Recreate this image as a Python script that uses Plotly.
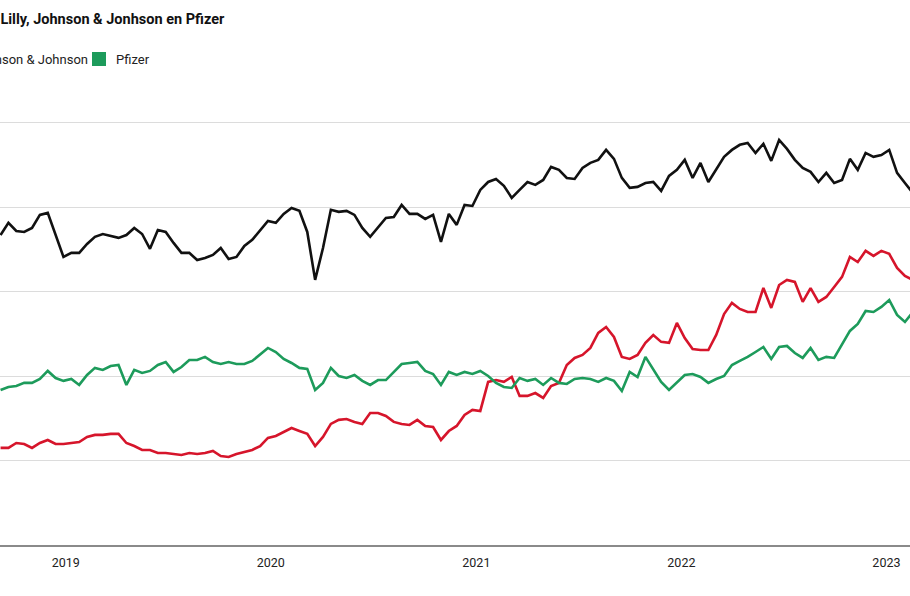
import pandas as pd
import plotly.graph_objects as go

# Biweekly observation dates (visible window Sep 2018 - Feb 2023)
dates = pd.date_range("2018-09-07", periods=117, freq="14D")

series_names = ["Eli Lilly", "Johnson & Johnson", "Pfizer"]

eli_lilly = [
    57.5, 57.5, 60.4, 59.8, 57.5, 60.4, 62.2, 59.8, 59.8, 60.4,
    61.0, 64.0, 65.2, 65.2, 65.8, 65.8, 60.4, 58.6, 56.3, 56.3,
    54.5, 54.5, 53.9, 53.3, 54.5, 53.9, 54.5, 55.7, 52.7, 52.1,
    53.9, 55.1, 56.3, 58.6, 63.4, 64.6, 66.9, 69.3, 67.5, 65.8,
    58.6, 64.0, 71.7, 74.1, 74.6, 72.9, 71.7, 78.2, 78.2, 76.4,
    72.9, 71.7, 71.1, 74.1, 70.5, 69.9, 62.2, 67.5, 70.5, 77.0,
    80.0, 79.4, 96.6, 97.7, 96.6, 99.5, 88.3, 88.3, 90.0, 87.1,
    94.2, 96.0, 106.6, 110.8, 112.6, 116.7, 125.6, 129.1, 123.2, 111.4,
    110.2, 112.6, 119.7, 124.4, 120.3, 119.7, 131.5, 122.6, 116.1, 115.5,
    115.5, 124.4, 136.8, 143.4, 139.8, 138.0, 138.0, 152.2, 140.4, 154.0,
    157.0, 155.8, 144.0, 152.2, 144.0, 146.9, 152.8, 158.8, 170.6, 167.6,
    174.2, 171.2, 174.2, 172.4, 164.1, 159.4, 157.0,
]

johnson_johnson = [
    183.6, 190.8, 186.0, 185.4, 187.8, 195.5, 196.7, 183.1, 170.6, 173.0,
    173.0, 178.3, 182.5, 184.2, 183.1, 181.9, 183.6, 187.8, 184.2, 175.4,
    186.6, 185.4, 178.9, 173.0, 173.0, 168.8, 170.0, 171.8, 175.9, 169.4,
    170.6, 177.1, 180.7, 186.6, 191.9, 190.8, 196.1, 199.6, 197.9, 185.4,
    157.0, 175.9, 198.5, 197.3, 197.9, 195.5, 187.8, 182.5, 187.8, 193.7,
    194.3, 201.4, 196.1, 196.1, 193.1, 195.5, 179.5, 196.1, 189.6, 201.4,
    200.8, 210.3, 215.0, 216.8, 212.7, 205.6, 210.3, 215.0, 213.3, 216.2,
    223.9, 222.2, 217.4, 216.8, 223.3, 226.3, 228.1, 234.0, 228.7, 217.4,
    211.5, 212.1, 214.4, 215.0, 209.7, 218.6, 222.2, 228.1, 217.4, 226.3,
    215.0, 222.7, 229.9, 234.0, 237.0, 238.1, 232.2, 237.6, 227.5, 239.9,
    234.6, 228.1, 223.3, 221.0, 215.0, 220.4, 214.4, 216.2, 228.7, 222.2,
    232.2, 229.9, 231.0, 234.0, 220.4, 214.4, 208.5,
]

pfizer = [
    91.8, 93.6, 94.2, 96.0, 96.0, 98.3, 103.1, 98.9, 97.2, 98.3,
    94.8, 100.7, 104.9, 103.7, 106.0, 106.6, 94.8, 103.7, 101.9, 103.1,
    106.6, 108.4, 102.5, 105.4, 109.6, 109.6, 111.4, 108.4, 107.2, 108.4,
    107.2, 107.2, 109.0, 113.1, 116.7, 114.3, 110.2, 107.8, 104.9, 104.3,
    91.8, 96.0, 104.9, 100.1, 98.9, 100.7, 97.2, 94.8, 97.7, 97.7,
    102.5, 107.2, 107.8, 108.4, 103.1, 101.3, 94.8, 102.5, 100.7, 102.5,
    101.3, 103.1, 100.1, 96.0, 93.6, 93.0, 98.9, 97.2, 98.3, 94.8,
    98.9, 96.0, 95.4, 98.3, 98.9, 98.3, 96.6, 98.9, 97.2, 91.2,
    102.5, 99.5, 111.4, 104.3, 96.6, 91.8, 96.0, 100.7, 101.3, 99.5,
    96.0, 98.3, 100.1, 106.6, 109.0, 111.4, 114.3, 117.3, 110.2, 117.3,
    117.9, 113.7, 110.8, 116.7, 109.6, 111.4, 110.8, 118.5, 126.8, 130.9,
    138.6, 138.0, 141.0, 145.1, 136.3, 132.1, 138.0,
]

year_ticks = ["2019-01-01", "2020-01-01", "2021-01-01", "2022-01-01", "2023-01-01"]
year_labels = ["2019", "2020", "2021", "2022", "2023"]

colors = {"Eli Lilly": "#d6152b", "Johnson & Johnson": "#111111", "Pfizer": "#1d9b5b"}
FONT = "Roboto, Liberation Sans, sans-serif"

W, H = 910, 596
TOP, BOTTOM = 106, 51
plot_h = H - TOP - BOTTOM

def py(pixel_y):
    return (H - BOTTOM - pixel_y) / plot_h

def px(pixel_x):
    return pixel_x / W

fig = go.Figure()
for name, vals in [("Johnson & Johnson", johnson_johnson), ("Eli Lilly", eli_lilly), ("Pfizer", pfizer)]:
    fig.add_trace(go.Scatter(
        x=dates, y=vals, mode="lines", name=name,
        line=dict(color=colors[name], width=2.6),
        showlegend=False,
    ))

annotations = [
    dict(text="<b>Eli Lilly, Johnson &amp; Jonhson en Pfizer</b>", xref="paper", yref="paper",
         x=px(227), y=py(19), xanchor="right", yanchor="middle", showarrow=False,
         font=dict(family=FONT, size=14.5, color="#111111")),
    dict(text="Pfizer", xref="paper", yref="paper", x=px(114), y=py(59),
         xanchor="left", yanchor="middle", showarrow=False,
         font=dict(family=FONT, size=13, color="#222222")),
    dict(text="Johnson &amp; Johnson", xref="paper", yref="paper", x=px(90), y=py(59),
         xanchor="right", yanchor="middle", showarrow=False,
         font=dict(family=FONT, size=13, color="#222222")),
    dict(text="Eli Lilly", xref="paper", yref="paper", x=px(-52), y=py(59),
         xanchor="right", yanchor="middle", showarrow=False,
         font=dict(family=FONT, size=13, color="#222222")),
]

def square(x0, color):
    return dict(type="rect", xref="paper", yref="paper",
                x0=px(x0), x1=px(x0 + 14), y0=py(66), y1=py(52),
                fillcolor=color, line=dict(width=0), layer="above")

shapes = [square(92, colors["Pfizer"]), square(-44, colors["Johnson & Johnson"]),
          square(-118, colors["Eli Lilly"])]

fig.update_layout(
    width=W, height=H,
    margin=dict(l=0, r=0, t=TOP, b=BOTTOM),
    paper_bgcolor="white", plot_bgcolor="white",
    annotations=annotations, shapes=shapes,
    xaxis=dict(
        range=["2018-09-06", "2023-02-12"],
        tickvals=year_ticks, ticktext=year_labels,
        showgrid=False, showline=True, linecolor="#8a8a8a", linewidth=2,
        ticks="", tickfont=dict(family=FONT, size=12.5, color="#222222"),
        ticklabelstandoff=5,
    ),
    yaxis=dict(
        range=[0, 260], dtick=50, tick0=0,
        showgrid=True, gridcolor="#dcdcdc", gridwidth=1,
        zeroline=False, showticklabels=False, showline=False, ticks="",
    ),
)

fig.write_html("out.html", config={"displayModeBar": False},
               post_script="document.body.style.margin='0px';")
